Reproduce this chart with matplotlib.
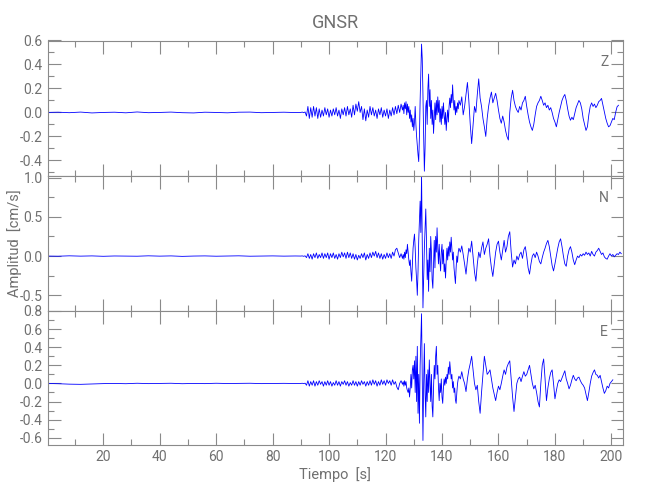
import numpy as np
import matplotlib
matplotlib.use('Agg')
import matplotlib.pyplot as plt
from matplotlib.ticker import MultipleLocator

# ---- data (cm/s) ----
# each trace is split in 4 pieces: quiet part, pre-event noise, strong motion, coda
# piece = (start time [s], sample step [s], values)
quiet_start, quiet_step = 0.0, 4.0
noise_start, noise_step = 90.0, 0.5
strong_start, strong_step = 126.25, 0.25
coda_start, coda_step = 146.5, 0.5

z_quiet = [0.0, 0.002, -0.002, 0.003, -0.004, 0.0, 0.002, -0.003, 0.004, -0.002, 0.0, 0.003,
           -0.002, -0.004, 0.002, 0.0, -0.003, 0.002, 0.003, -0.002, 0.0, 0.002, -0.001]
z_noise = [0.0, 0.003, -0.002, 0.004, -0.03, 0.05, -0.05, 0.04, -0.04, 0.05, -0.03, 0.04,
           -0.05, 0.03, -0.04, 0.02, -0.03, 0.04, -0.02, 0.03, -0.04, 0.02, -0.03, 0.03,
           -0.02, 0.04, -0.03, 0.02, -0.05, 0.03, -0.02, 0.04, -0.03, 0.05, -0.02, 0.03,
           -0.04, 0.06, -0.02, 0.07, 0.01, 0.09, 0.0, 0.05, -0.06, 0.03, -0.07, 0.02,
           -0.04, 0.05, -0.02, 0.04, -0.03, 0.02, -0.05, 0.03, -0.02, 0.04, -0.04, 0.02,
           -0.03, 0.03, -0.05, 0.02, -0.03, 0.04, -0.02, 0.05, -0.01, 0.06, 0.0, 0.07, 0.02]
z_strong = [0.06, -0.01, 0.08, 0.03, 0.09, -0.02, 0.07, 0.0, 0.05, -0.05, 0.02, -0.08,
            -0.02, -0.12, -0.05, -0.15, -0.08, 0.05, -0.1, -0.2, -0.28, -0.35, -0.41, -0.2,
            0.1, 0.35, 0.57, 0.45, 0.15, -0.2, -0.49, -0.3, 0.05, 0.1, -0.1, 0.2,
            0.32, 0.05, 0.19, -0.05, 0.1, -0.1, 0.02, -0.175, -0.05, 0.08, -0.06, 0.1,
            -0.02, 0.13, 0.0, 0.1, -0.08, 0.03, -0.1, 0.05, -0.05, 0.08, -0.02, -0.1,
            0.0, -0.15, -0.05, 0.02, -0.08, 0.05, 0.12, 0.04, 0.15, 0.08, 0.23, 0.1,
            0.02, 0.1, -0.02, 0.05, 0.0, 0.08, 0.03, 0.1]
z_coda = [0.06, 0.13, -0.02, 0.05, 0.15, 0.25, 0.1, -0.1, -0.26, -0.1, 0.05, 0.0,
          0.15, 0.28, 0.12, 0.05, -0.05, -0.12, -0.2, -0.05, 0.05, 0.12, 0.17, 0.08,
          0.12, 0.16, 0.1, 0.02, -0.05, -0.09, -0.03, -0.08, -0.15, -0.2, -0.23, 0.0,
          0.12, 0.185, 0.1, 0.05, 0.02, 0.0, 0.05, 0.02, 0.08, 0.1, 0.135, 0.05,
          -0.02, -0.08, -0.12, -0.15, -0.1, -0.02, 0.05, 0.08, 0.1, 0.135, 0.1, 0.06,
          0.08, 0.04, 0.06, 0.02, 0.04, 0.0, -0.05, -0.08, -0.12, -0.06, 0.0, 0.05,
          0.1, 0.13, 0.15, 0.1, 0.03, -0.03, -0.065, -0.04, -0.06, -0.01, 0.04, 0.07,
          0.1, 0.08, 0.03, -0.05, -0.1, -0.15, -0.12, -0.02, 0.05, 0.08, 0.05, 0.07,
          0.04, 0.06, 0.09, 0.1, 0.117, 0.06, 0.0, -0.05, -0.09, -0.12, -0.11, -0.08,
          -0.05, -0.06, 0.0, 0.047, 0.06]

n_quiet = [0.0, -0.002, 0.003, -0.001, 0.002, -0.003, 0.001, 0.0, -0.002, 0.003, -0.001, 0.002,
           -0.004, 0.0, 0.002, -0.002, 0.001, 0.003, -0.002, 0.0, 0.002, -0.001, 0.001]
n_noise = [0.0, 0.002, -0.003, 0.003, -0.02, 0.03, -0.03, 0.02, -0.04, 0.03, -0.02, 0.04,
           -0.03, 0.02, -0.02, 0.04, -0.03, 0.03, -0.02, 0.04, -0.04, 0.03, -0.02, 0.04,
           -0.03, 0.02, -0.04, 0.03, -0.02, 0.05, -0.01, 0.04, -0.03, 0.05, -0.02, 0.04,
           -0.03, 0.03, -0.04, 0.02, -0.05, 0.01, -0.03, 0.03, -0.02, 0.04, -0.05, 0.02,
           -0.03, 0.04, -0.02, 0.05, 0.0, 0.06, -0.02, 0.04, -0.03, 0.03, -0.04, 0.02,
           -0.03, 0.04, -0.02, 0.03, -0.03, 0.05, 0.0, 0.08, 0.1, 0.04, -0.02, 0.03, -0.03]
n_strong = [0.02, -0.04, 0.05, -0.02, 0.08, 0.03, 0.15, 0.05, -0.05, -0.12, -0.05, -0.2,
            -0.32, -0.1, 0.1, 0.2, 0.28, 0.1, -0.15, -0.3, -0.5, -0.2, 0.2, 0.45,
            0.7, 0.3, 1.05, 0.2, -0.66, -0.3, 0.1, 0.35, 0.6, 0.2, -0.3, -0.05,
            -0.45, 0.1, -0.2, 0.25, 0.05, -0.3, -0.41, -0.1, 0.2, -0.15, 0.25, 0.05,
            0.36, 0.1, -0.1, 0.15, -0.05, -0.19, 0.05, 0.15, -0.1, 0.08, -0.2, -0.1,
            -0.28, -0.05, 0.1, -0.05, 0.12, 0.0, 0.18, 0.05, 0.24, 0.1, -0.05, 0.05,
            -0.15, -0.25, -0.35, -0.15, 0.0, -0.08, 0.05, 0.1]
n_coda = [0.05, 0.13, 0.02, -0.1, -0.23, -0.05, 0.1, 0.05, 0.19, 0.0, -0.2, -0.32,
          -0.1, 0.05, -0.02, 0.1, 0.18, 0.02, 0.1, 0.15, 0.22, 0.0, -0.15, -0.26,
          -0.1, 0.05, 0.15, 0.19, 0.05, -0.05, 0.08, 0.2, 0.05, 0.12, 0.25, 0.31,
          0.05, -0.14, -0.05, -0.1, 0.0, -0.05, 0.02, 0.05, -0.03, 0.08, 0.12, 0.0,
          -0.15, -0.23, -0.1, 0.0, 0.03, -0.02, 0.05, 0.0, -0.07, -0.1, -0.02, 0.05,
          0.1, 0.16, 0.2, 0.12, 0.0, -0.12, -0.19, -0.1, 0.0, 0.1, 0.18, 0.22,
          0.12, 0.0, -0.1, -0.13, 0.0, 0.08, 0.12, 0.05, -0.05, -0.11, -0.05, 0.0,
          -0.02, 0.02, 0.0, 0.03, 0.01, 0.05, 0.02, 0.04, 0.0, 0.06, 0.02, 0.0,
          0.05, 0.07, 0.1, 0.06, 0.02, 0.04, -0.01, -0.03, -0.04, 0.0, 0.03, 0.0,
          0.02, -0.01, 0.01, 0.03, 0.02, 0.05, 0.03]

e_quiet = [0.0, -0.003, -0.008, -0.01, -0.006, -0.002, 0.0, -0.003, 0.002, -0.002, 0.0, 0.002,
           -0.003, 0.0, -0.002, 0.002, -0.001, 0.0, 0.002, -0.002, 0.0, 0.001, -0.001]
e_noise = [0.0, 0.002, -0.002, 0.003, -0.02, 0.03, -0.03, 0.02, -0.02, 0.03, -0.03, 0.02,
           -0.02, 0.03, -0.01, 0.02, -0.03, 0.02, -0.02, 0.03, -0.02, 0.02, -0.03, 0.01,
           -0.02, 0.03, -0.02, 0.02, -0.03, 0.02, -0.01, 0.03, -0.02, 0.02, -0.03, 0.01,
           -0.02, 0.03, -0.02, 0.02, -0.03, 0.02, -0.02, 0.03, -0.01, 0.02, -0.03, 0.02,
           -0.02, 0.03, -0.02, 0.04, -0.01, 0.03, -0.03, 0.02, -0.02, 0.04, -0.01, 0.03,
           -0.02, 0.04, 0.0, 0.03, -0.02, 0.04, -0.01, 0.02, -0.04, -0.07, 0.0, 0.03, -0.01]
e_strong = [0.02, -0.03, 0.03, -0.02, 0.02, -0.05, -0.08, -0.1, -0.05, -0.15, -0.05, 0.1,
            -0.05, 0.15, 0.2, 0.05, 0.25, -0.1, 0.3, -0.2, 0.41, -0.33, 0.1, -0.44,
            0.2, 0.5, 0.77, 0.1, -0.63, 0.0, 0.44, -0.1, -0.37, 0.1, -0.2, 0.15,
            -0.1, 0.26, 0.0, -0.2, 0.1, -0.25, -0.37, -0.05, 0.2, 0.05, 0.3, 0.41,
            0.1, 0.2, -0.05, -0.19, 0.0, -0.1, 0.05, -0.15, -0.22, -0.05, 0.05, -0.02,
            0.07, 0.0, 0.1, 0.05, 0.18, 0.1, 0.24, 0.15, 0.05, 0.1, -0.05, 0.02,
            -0.1, -0.05, -0.18, -0.22, -0.1, 0.0, 0.05, 0.08]
e_coda = [0.05, 0.13, 0.05, 0.0, -0.09, 0.05, 0.15, 0.22, 0.3, 0.15, 0.0, -0.07,
          -0.02, -0.2, -0.33, -0.1, 0.1, 0.3, 0.2, 0.1, 0.12, 0.15, 0.05, -0.05,
          -0.12, -0.19, -0.1, -0.03, -0.07, 0.0, 0.08, 0.15, 0.1, 0.18, 0.22, 0.25,
          0.05, -0.15, -0.31, -0.15, 0.0, 0.05, 0.07, 0.02, 0.08, 0.13, 0.08, 0.1,
          0.15, 0.2, 0.1, 0.0, -0.06, -0.02, -0.1, -0.2, -0.26, 0.0, 0.2, 0.27,
          0.05, -0.19, -0.05, 0.05, 0.12, 0.15, 0.0, -0.17, -0.08, 0.0, 0.04, 0.02,
          0.06, 0.1, 0.14, 0.05, 0.0, -0.06, -0.02, 0.04, 0.09, 0.05, 0.03, 0.06,
          0.07, 0.03, 0.0, -0.02, -0.05, -0.12, -0.19, -0.1, 0.0, 0.08, 0.12, 0.15,
          0.1, 0.09, 0.06, 0.09, 0.02, -0.05, -0.11, -0.08, -0.03, -0.05, 0.0, 0.02, 0.04]

components = ['Z', 'N', 'E']
traces = {'Z': [z_quiet, z_noise, z_strong, z_coda],
          'N': [n_quiet, n_noise, n_strong, n_coda],
          'E': [e_quiet, e_noise, e_strong, e_coda]}
ylims = {'Z': (-0.53, 0.6), 'N': (-0.70, 1.02), 'E': (-0.68, 0.8)}
ymajor = {'Z': 0.2, 'N': 0.5, 'E': 0.2}
yminor = {'Z': 0.1, 'N': 0.25, 'E': 0.1}
starts = [quiet_start, noise_start, strong_start, coda_start]
steps = [quiet_step, noise_step, strong_step, coda_step]


def build_trace(pieces):
    # glue the pieces together with their own time grid
    tt, vv = [], []
    for p, t0, dt in zip(pieces, starts, steps):
        tt.append(t0 + dt*np.arange(len(p)))
        vv.append(np.array(p))
    return np.concatenate(tt), np.concatenate(vv)


grey = '#8a8a8a'       # frame and ticks
txt = '#707070'        # all the texts
plt.rcParams['font.family'] = ['Roboto', 'DejaVu Sans']
plt.rcParams['axes.edgecolor'] = grey
plt.rcParams['axes.labelcolor'] = txt
plt.rcParams['text.color'] = txt

fig = plt.figure(figsize=(6.5, 5.0), dpi=100)
left, width = 47.6/650, (622.7-47.6)/650
edges = [40.5, 176.0, 311.0, 445.0]   # panel borders in pixels from the top

axes = []
for i, comp in enumerate(components):
    bottom = 1 - edges[i+1]/500
    height = (edges[i+1]-edges[i])/500
    ax = fig.add_axes([left, bottom, width, height])
    t, v = build_trace(traces[comp])
    ax.plot(t, v, color='#0000ff', lw=0.6)

    ax.set_xlim(0.3, 204)
    ax.set_ylim(*ylims[comp])
    ax.xaxis.set_major_locator(MultipleLocator(20))
    ax.xaxis.set_minor_locator(MultipleLocator(10))
    ax.yaxis.set_major_locator(MultipleLocator(ymajor[comp]))
    ax.yaxis.set_minor_locator(MultipleLocator(yminor[comp]))
    ax.yaxis.set_major_formatter(matplotlib.ticker.FormatStrFormatter('%.1f'))
    ax.tick_params(which='both', direction='in', top=True, right=True,
                   width=0.8, labelsize=10, color=grey, labelcolor=txt)
    ax.tick_params(which='major', length=9)
    ax.tick_params(which='minor', length=4.5)
    for s in ax.spines.values():
        s.set_linewidth(0.8)
    if i < 2:
        ax.tick_params(labelbottom=False)
    ax.text(0.968, 0.84, comp, transform=ax.transAxes, fontsize=10,
            ha='center', va='center')
    axes.append(ax)

axes[0].set_title('GNSR', fontsize=13, pad=9)
axes[1].set_ylabel('Amplitud  [cm/s]', fontsize=10.5)
axes[2].set_xlabel('Tiempo  [s]', fontsize=10.5, labelpad=2)
axes[1].yaxis.set_label_coords(-0.045, 0.5)

fig.savefig('out.png', dpi=100)
